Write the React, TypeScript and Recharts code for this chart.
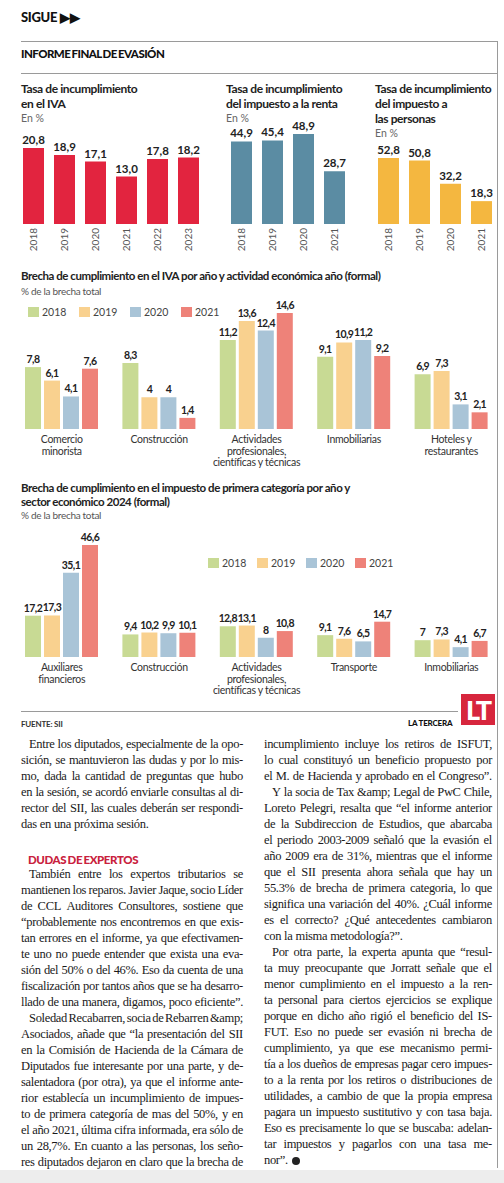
import React from 'react';
import { BarChart, Bar, XAxis, YAxis, LabelList, Legend } from 'recharts';

const SANS = 'Lato, "Open Sans", sans-serif';
const SERIF = '"Liberation Serif", "DejaVu Serif", serif';

// top row: rates, in %
const ivaYears = ['2018', '2019', '2020', '2021', '2022', '2023'];
const ivaRates = [20.8, 18.9, 17.1, 13.0, 17.8, 18.2];
const rentaYears = ['2018', '2019', '2020', '2021'];
const rentaRates = [44.9, 45.4, 48.9, 28.7];
const personasYears = ['2018', '2019', '2020', '2021'];
const personasRates = [52.8, 50.8, 32.2, 18.3];

// grouped charts
const seriesYears = ['2018', '2019', '2020', '2021'];
const seriesColors = ['#c8da94', '#f9d18f', '#a9c4d7', '#ee8279'];

const ivaSectors = [['Comercio', 'minorista'], ['Construcción'], ['Actividades', 'profesionales,', 'científicas y técnicas'], ['Inmobiliarias'], ['Hoteles y', 'restaurantes']];
const ivaGap2018 = [7.8, 8.3, 11.2, 9.1, 6.9];
const ivaGap2019 = [6.1, 4, 13.6, 10.9, 7.3];
const ivaGap2020 = [4.1, 4, 12.4, 11.2, 3.1];
const ivaGap2021 = [7.6, 1.4, 14.6, 9.2, 2.1];

const primeraSectors = [['Auxiliares', 'financieros'], ['Construcción'], ['Actividades', 'profesionales,', 'científicas y técnicas'], ['Transporte'], ['Inmobiliarias']];
const primeraGap2018 = [17.2, 9.4, 12.8, 9.1, 7];
const primeraGap2019 = [17.3, 10.2, 13.1, 7.6, 7.3];
const primeraGap2020 = [35.1, 9.9, 8, 6.5, 4.1];
const primeraGap2021 = [46.6, 10.1, 10.8, 14.7, 6.7];

// article text, one entry per printed line (i = indent, l = last line of paragraph)
const leftTop = [
  { t: 'Entre los diputados, especialmente de la opo-', i: 1 },
  { t: 'sición, se mantuvieron las dudas y por lo mis-' },
  { t: 'mo, dada la cantidad de preguntas que hubo' },
  { t: 'en la sesión, se acordó enviarle consultas al di-' },
  { t: 'rector del SII, las cuales deberán ser respondi-' },
  { t: 'das en una próxima sesión.', l: 1 },
];
const leftBottom = [
  { t: 'También entre los expertos tributarios se', i: 1 },
  { t: 'mantienen los reparos. Javier Jaque, socio Líder' },
  { t: 'de CCL Auditores Consultores, sostiene que' },
  { t: '“probablemente nos encontremos en que exis-' },
  { t: 'tan errores en el informe, ya que efectivamen-' },
  { t: 'te uno no puede entender que exista una eva-' },
  { t: 'sión del 50% o del 46%. Eso da cuenta de una' },
  { t: 'fiscalización por tantos años que se ha desarro-' },
  { t: 'llado de una manera, digamos, poco eficiente”.' },
  { t: 'Soledad Recabarren, socia de Rebarren &amp;', i: 1 },
  { t: 'Asociados, añade que “la presentación del SII' },
  { t: 'en la Comisión de Hacienda de la Cámara de' },
  { t: 'Diputados fue interesante por una parte, y de-' },
  { t: 'salentadora (por otra), ya que el informe ante-' },
  { t: 'rior establecía un incumplimiento de impues-' },
  { t: 'to de primera categoría de mas del 50%, y en' },
  { t: 'el año 2021, última cifra informada, era sólo de' },
  { t: 'un 28,7%. En cuanto a las personas, los seño-' },
  { t: 'res diputados dejaron en claro que la brecha de' },
];
const rightLines = [
  { t: 'incumplimiento incluye los retiros de ISFUT,' },
  { t: 'lo cual constituyó un beneficio propuesto por' },
  { t: 'el M. de Hacienda y aprobado en el Congreso”.' },
  { t: 'Y la socia de Tax &amp; Legal de PwC Chile,', i: 1 },
  { t: 'Loreto Pelegri, resalta que “el informe anterior' },
  { t: 'de la Subdireccion de Estudios, que abarcaba' },
  { t: 'el periodo 2003-2009 señaló que la evasión el' },
  { t: 'año 2009 era de 31%, mientras que el informe' },
  { t: 'que el SII presenta ahora señala que hay un' },
  { t: '55.3% de brecha de primera categoria, lo que' },
  { t: 'significa una variación del 40%. ¿Cuál informe' },
  { t: 'es el correcto? ¿Qué antecedentes cambiaron' },
  { t: 'con la misma metodología?”.', l: 1 },
  { t: 'Por otra parte, la experta apunta que “resul-', i: 1 },
  { t: 'ta muy preocupante que Jorratt señale que el' },
  { t: 'menor cumplimiento en el impuesto a la ren-' },
  { t: 'ta personal para ciertos ejercicios se explique' },
  { t: 'porque en dicho año rigió el beneficio del IS-' },
  { t: 'FUT. Eso no puede ser evasión ni brecha de' },
  { t: 'cumplimiento, ya que ese mecanismo permi-' },
  { t: 'tía a los dueños de empresas pagar cero impues-' },
  { t: 'to a la renta por los retiros o distribuciones de' },
  { t: 'utilidades, a cambio de que la propia empresa' },
  { t: 'pagara un impuesto sustitutivo y con tasa baja.' },
  { t: 'Eso es precisamente lo que se buscaba: adelan-' },
  { t: 'tar impuestos y pagarlos con una tasa me-' },
  { t: 'nor”.', l: 1, end: 1 },
];

const comma = (v: any) => String(v).replace('.', ',');
const oneDecimal = (v: any) => Number(v).toFixed(1).replace('.', ',');

function Txt({ x, y, size = 12, weight = 400, color = '#222', ls = 0, lh = 15, children, font = SANS, ws = 0 }: any) {
  return (
    <div
      style={{
        position: 'absolute',
        left: x,
        top: y - lh / 2,
        lineHeight: `${lh}px`,
        fontSize: size,
        fontWeight: weight,
        color,
        letterSpacing: ls,
        wordSpacing: ws,
        fontFamily: font,
        whiteSpace: 'nowrap',
      }}
    >
      {children}
    </div>
  );
}

function BodyLine({ x, y, width, line }: any) {
  const indent = line.i ? 8 : 0;
  const words = line.t.split(' ');
  return (
    <div
      style={{
        position: 'absolute',
        left: x + indent,
        top: y - 8,
        width: width - indent,
        height: 16,
        lineHeight: '16px',
        display: 'flex',
        justifyContent: line.l ? 'flex-start' : 'space-between',
        columnGap: line.l ? 3 : 0,
        fontFamily: SERIF,
        fontSize: 12.5,
        letterSpacing: -0.32,
        color: '#1a1a1a',
        whiteSpace: 'nowrap',
      }}
    >
      {words.map((w: string, k: number) => (
        <span key={k} style={{ flexShrink: 0 }}>{w}</span>
      ))}
      {line.end ? (
        <span style={{ display: 'inline-block', width: 8, height: 8, borderRadius: 4, background: '#222', marginTop: 5, marginLeft: 1 }} />
      ) : null}
    </div>
  );
}

function YearTick(props: any) {
  const { x, y, payload } = props;
  return (
    <text
      x={x}
      y={y}
      transform={`rotate(-90 ${x} ${y})`}
      textAnchor="end"
      dy="0.36em"
      fontSize={10}
      fill="#555"
      fontFamily={SANS}
    >
      {payload.value}
    </text>
  );
}

function RateChart({ years, values, color, max, left }: any) {
  const data = years.map((year: string, i: number) => ({ year, value: values[i] }));
  return (
    <div style={{ position: 'absolute', left, top: 118 }}>
      <BarChart width={years.length * 31} height={136} data={data} margin={{ top: 12, right: 0, bottom: 0, left: 0 }}>
        <XAxis dataKey="year" axisLine={false} tickLine={false} tickSize={0} tickMargin={4} height={30} interval={0} tick={<YearTick />} />
        <YAxis hide domain={[0, max]} allowDataOverflow />
        <Bar dataKey="value" fill={color} barSize={21} isAnimationActive={false}>
          <LabelList
            dataKey="value"
            position="top"
            offset={4}
            formatter={oneDecimal}
            fill="#222"
            fontSize={11.5}
            fontWeight={700}
            fontFamily={SANS}
          />
        </Bar>
      </BarChart>
    </div>
  );
}

function makeSectorTick(sectors: string[][]) {
  return function SectorTick(props: any) {
    const { x, y, payload } = props;
    const parts = sectors.find((s) => s.join(' ') === payload.value) || [payload.value];
    return (
      <text x={x} y={y} textAnchor="middle" fontSize={10.5} fill="#333" fontFamily={SANS} letterSpacing={-0.3}>
        {parts.map((p, k) => (
          <tspan key={k} x={x} dy={k === 0 ? 14 : 11.5}>{p}</tspan>
        ))}
      </text>
    );
  };
}

function YearLegend({ pitch }: any) {
  return (
    <div style={{ display: 'flex', fontFamily: SANS }}>
      {seriesYears.map((yr, k) => (
        <div key={yr} style={{ width: pitch, display: 'flex', alignItems: 'center' }}>
          <span style={{ width: 11, height: 10, background: seriesColors[k], marginRight: 3, display: 'inline-block' }} />
          <span style={{ fontSize: 10.5, color: '#444', lineHeight: '12px' }}>{yr}</span>
        </div>
      ))}
    </div>
  );
}

function SectorChart({ top, plotTop, max, sectors, s2018, s2019, s2020, s2021, legendX, legendY, pitch }: any) {
  const data = sectors.map((s: string[], i: number) => ({
    sector: s.join(' '),
    '2018': s2018[i],
    '2019': s2019[i],
    '2020': s2020[i],
    '2021': s2021[i],
  }));
  const left = 13;
  const SectorTick = makeSectorTick(sectors);
  return (
    <div style={{ position: 'absolute', left, top }}>
      <BarChart
        width={487}
        height={plotTop + max.h + 40}
        data={data}
        barGap={3}
        margin={{ top: plotTop, right: 0, bottom: 0, left: 0 }}
      >
        <XAxis dataKey="sector" axisLine={false} tickLine={false} tickSize={0} tickMargin={0} height={40} interval={0} tick={<SectorTick />} />
        <YAxis hide domain={[0, max.v]} allowDataOverflow />
        <Legend
          layout="vertical"
          align="center"
          verticalAlign="middle"
          content={() => <YearLegend pitch={pitch} />}
          wrapperStyle={{ left: legendX - left, top: legendY - top - 6, width: 'auto', height: 'auto' }}
        />
        {seriesYears.map((yr, k) => (
          <Bar key={yr} dataKey={yr} fill={seriesColors[k]} barSize={16} isAnimationActive={false}>
            <LabelList
              dataKey={yr}
              position="top"
              offset={4}
              formatter={comma}
              fill="#222"
              fontSize={10.5}
              fontWeight={700}
              fontFamily={SANS}
              letterSpacing={-0.6}
            />
          </Bar>
        ))}
      </BarChart>
    </div>
  );
}

export default function App() {
  const rule = (x: number, y: number, w: number) => (
    <div style={{ position: 'absolute', left: x, top: y, width: w, height: 1, background: '#9a9a9a' }} />
  );
  return (
    <div style={{ position: 'absolute', left: 0, top: 0, width: 504, height: 1183, background: '#fff', overflow: 'hidden', fontFamily: SANS }}>
      <Txt x={21} y={17} size={13} weight={900} color="#111" ls={-0.3}>SIGUE ▶▶</Txt>
      {rule(21, 41, 476)}
      <div style={{ position: 'absolute', left: 497, top: 41, width: 1, height: 1127, background: '#9a9a9a' }} />
      <Txt x={21} y={53} size={11.5} weight={900} color="#111" ls={-0.55} ws={-1}>INFORME FINAL DE EVASIÓN</Txt>
      {rule(21, 73, 476)}

      <Txt x={21} y={88} weight={700} ls={-0.4}>Tasa de incumplimiento</Txt>
      <Txt x={21} y={103} weight={700} ls={-0.4}>en el IVA</Txt>
      <Txt x={21} y={118} size={10.5} color="#666">En %</Txt>

      <Txt x={226} y={88} weight={700} ls={-0.4}>Tasa de incumplimiento</Txt>
      <Txt x={226} y={103} weight={700} ls={-0.4}>del impuesto a la renta</Txt>
      <Txt x={226} y={118} size={10.5} color="#666">En %</Txt>

      <Txt x={375} y={88} weight={700} ls={-0.4}>Tasa de incumplimiento</Txt>
      <Txt x={375} y={103} weight={700} ls={-0.4}>del impuesto a</Txt>
      <Txt x={375} y={118} weight={700} ls={-0.4}>las personas</Txt>
      <Txt x={375} y={133} size={10.5} color="#666">En %</Txt>

      <RateChart years={ivaYears} values={ivaRates} color="#e2243f" max={25.75} left={18} />
      <RateChart years={rentaYears} values={rentaRates} color="#5b8ca3" max={51.1} left={226} />
      <RateChart years={personasYears} values={personasRates} color="#f4b740" max={75.2} left={373} />

      <Txt x={21} y={275} size={11.5} weight={700} ls={-0.45}>Brecha de cumplimiento en el IVA por año y actividad económica año (formal)</Txt>
      <Txt x={21} y={291} size={10} color="#555" ls={-0.3}>% de la brecha total</Txt>
      <SectorChart
        top={295}
        plotTop={7}
        max={{ v: 16, h: 127 }}
        sectors={ivaSectors}
        s2018={ivaGap2018}
        s2019={ivaGap2019}
        s2020={ivaGap2020}
        s2021={ivaGap2021}
        legendX={28}
        legendY={312}
        pitch={51}
      />

      <Txt x={21} y={487} size={11.5} weight={700} ls={-0.45}>Brecha de cumplimiento en el impuesto de primera categoría por año y</Txt>
      <Txt x={21} y={501} size={11.5} weight={700} ls={-0.45}>sector económico 2024 (formal)</Txt>
      <Txt x={21} y={515} size={10} color="#555" ls={-0.3}>% de la brecha total</Txt>
      <SectorChart
        top={530}
        plotTop={5}
        max={{ v: 50.8, h: 122 }}
        sectors={primeraSectors}
        s2018={primeraGap2018}
        s2019={primeraGap2019}
        s2020={primeraGap2020}
        s2021={primeraGap2021}
        legendX={208}
        legendY={563}
        pitch={49}
      />

      {rule(21, 711, 437)}
      <Txt x={21} y={724} size={8} weight={700} color="#333" ls={-0.2}>FUENTE: SII</Txt>
      <Txt x={408} y={723} size={8} weight={900} color="#111" ls={-0.2}>LA TERCERA</Txt>
      <div style={{ position: 'absolute', left: 461, top: 694, width: 34, height: 31, background: '#d7263d', color: '#fff', fontFamily: SANS, fontWeight: 900, fontSize: 27, lineHeight: '31px', textAlign: 'center', letterSpacing: -2 }}>LT</div>

      {leftTop.map((line, k) => (
        <BodyLine key={`a${k}`} x={21} y={744 + k * 16} width={222} line={line} />
      ))}
      <Txt x={28} y={859} size={11.5} weight={900} color="#c9213d" ls={-0.4} ws={-1}>DUDAS DE EXPERTOS</Txt>
      {leftBottom.map((line, k) => (
        <BodyLine key={`b${k}`} x={21} y={874 + k * 16} width={222} line={line} />
      ))}
      {rightLines.map((line, k) => (
        <BodyLine key={`c${k}`} x={264} y={744 + k * 16} width={228} line={line} />
      ))}
      <div style={{ position: 'absolute', left: 0, top: 1170, width: 504, height: 13, background: '#ededed' }} />
    </div>
  );
}
